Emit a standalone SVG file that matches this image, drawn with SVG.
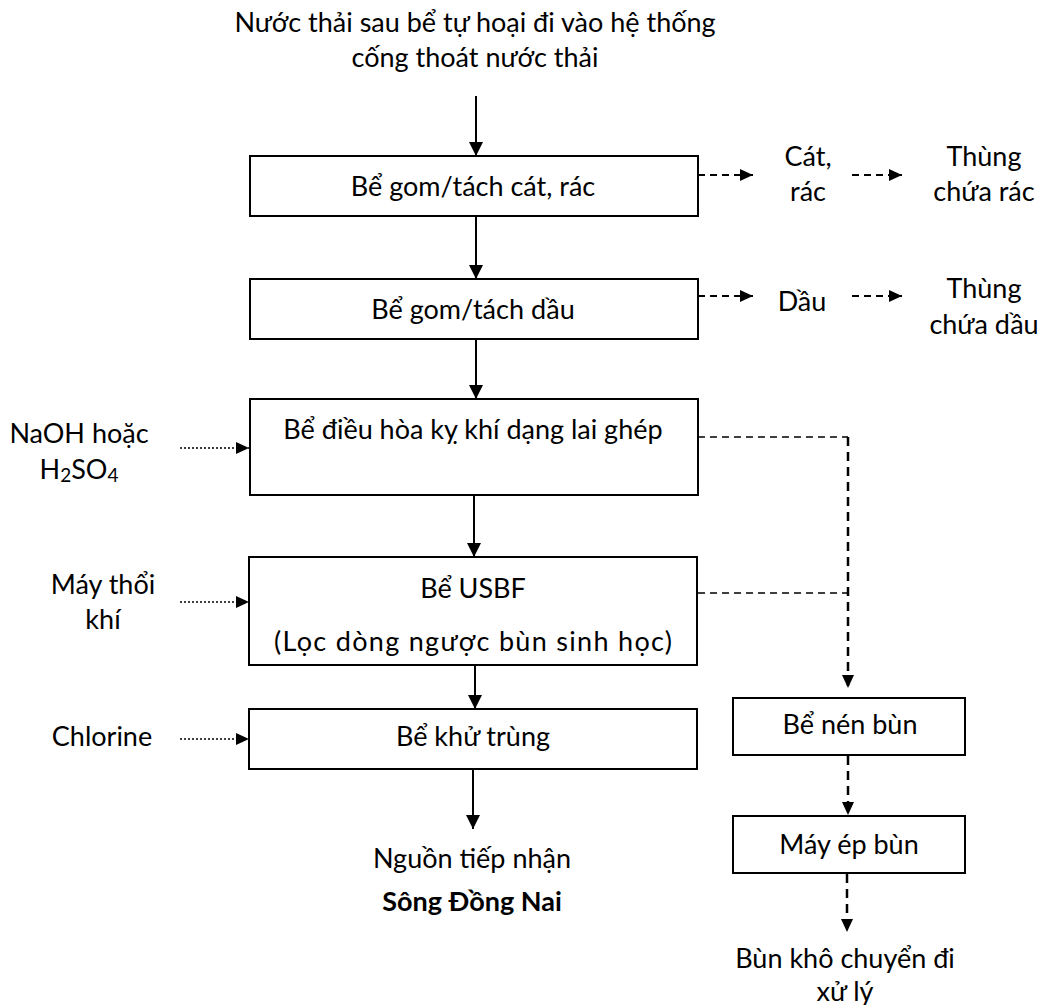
<svg xmlns="http://www.w3.org/2000/svg" width="1043" height="1005" viewBox="0 0 1043 1005">
<defs>
<style>
text{font-family:Lato,"Noto Sans",sans-serif;font-size:27px;fill:#000;text-anchor:middle}
.b{font-weight:bold}
.box{fill:#fff;stroke:#000;stroke-width:2}
.solid{stroke:#000;stroke-width:2;fill:none}
.dash{stroke:#000;stroke-width:2;fill:none;stroke-dasharray:7 5}
.dashv{stroke:#000;stroke-width:2.5;fill:none;stroke-dasharray:9 6}
.dashh{stroke:#000;stroke-width:1.5;fill:none;stroke-dasharray:7 5}
.dot{stroke:#000;stroke-width:1.5;fill:none;stroke-dasharray:2 2}
</style>
<marker id="ah" markerUnits="userSpaceOnUse" markerWidth="14" markerHeight="14" viewBox="0 0 14 14" refX="14" refY="7" orient="auto"><path d="M0,0 L14,7 L0,14 Z" fill="#000"/></marker>
<marker id="ahs" markerUnits="userSpaceOnUse" markerWidth="13" markerHeight="12" viewBox="0 0 13 12" refX="13" refY="6" orient="auto"><path d="M0,0 L13,6 L0,12 Z" fill="#000"/></marker>
</defs>

<g id="connectors">
<line class="solid" x1="476" y1="96" x2="476" y2="156" marker-end="url(#ah)"/>
<line class="solid" x1="476" y1="216" x2="476" y2="279" marker-end="url(#ah)"/>
<line class="solid" x1="476" y1="339" x2="476" y2="399" marker-end="url(#ah)"/>
<line class="solid" x1="474" y1="495" x2="474" y2="557" marker-end="url(#ah)"/>
<line class="solid" x1="475" y1="653" x2="475" y2="709" marker-end="url(#ah)"/>
<line class="solid" x1="473" y1="769" x2="473" y2="829" marker-end="url(#ah)"/>
<line class="dash" x1="698" y1="175" x2="753" y2="175" marker-end="url(#ahs)"/>
<line class="dash" x1="852" y1="175" x2="902" y2="175" marker-end="url(#ahs)"/>
<line class="dash" x1="698" y1="296" x2="753" y2="296" marker-end="url(#ahs)"/>
<line class="dash" x1="852" y1="296" x2="902" y2="296" marker-end="url(#ahs)"/>
<line class="dot" x1="180" y1="448" x2="249" y2="448" marker-end="url(#ahs)"/>
<line class="dot" x1="180" y1="602" x2="249" y2="602" marker-end="url(#ahs)"/>
<line class="dot" x1="180" y1="739" x2="249" y2="739" marker-end="url(#ahs)"/>
<line class="dashh" x1="698" y1="437" x2="848" y2="437"/>
<line class="dashh" x1="698" y1="593" x2="848" y2="593"/>
<line class="dashv" x1="848" y1="437" x2="848" y2="688" marker-end="url(#ahs)"/>
<line class="dashv" x1="848" y1="756" x2="848" y2="815" marker-end="url(#ahs)"/>
<line class="dashv" x1="847" y1="874" x2="847" y2="932" marker-end="url(#ahs)"/>
</g>

<g id="source"><text x="475" y="32">Nước thải sau bể tự hoại đi vào hệ thống</text><text x="475" y="67">cống thoát nước thải</text></g>

<g id="n1"><rect class="box" x="250" y="156" width="448" height="60"/><text x="473" y="196">Bể gom/tách cát, rác</text></g>
<g id="n2"><rect class="box" x="250" y="279" width="448" height="60"/><text x="473" y="319">Bể gom/tách dầu</text></g>
<g id="n3"><rect class="box" x="250" y="399" width="448" height="96"/><text x="473" y="439">Bể điều hòa kỵ khí dạng lai ghép</text></g>
<g id="n4"><rect class="box" x="249" y="557" width="448" height="108"/><text x="473" y="598">Bể USBF</text><text x="473" y="651" textLength="398" lengthAdjust="spacing">(Lọc dòng ngược bùn sinh học)</text></g>
<g id="n5"><rect class="box" x="249" y="709" width="448" height="60"/><text x="473" y="746">Bể khử trùng</text></g>
<g id="out"><text x="472" y="868">Nguồn tiếp nhận</text><text class="b" x="472" y="911">Sông Đồng Nai</text></g>

<g id="catrac"><text x="808" y="166">Cát,</text><text x="808" y="201">rác</text></g>
<g id="thungrac"><text x="984" y="166">Thùng</text><text x="984" y="201">chứa rác</text></g>
<g id="dau"><text x="802" y="311">Dầu</text></g>
<g id="thungdau"><text x="984" y="298">Thùng</text><text x="984" y="334">chứa dầu</text></g>

<g id="naoh"><text x="79" y="443">NaOH hoặc</text><text x="79" y="479">H<tspan font-size="19" dy="3">2</tspan><tspan dy="-3">SO</tspan><tspan font-size="19" dy="3">4</tspan></text></g>
<g id="may"><text x="103" y="594">Máy thổi</text><text x="103" y="629">khí</text></g>
<g id="chlorine"><text x="102" y="746">Chlorine</text></g>

<g id="nen"><rect class="box" x="733" y="698" width="232" height="57"/><text x="850" y="734">Bể nén bùn</text></g>
<g id="ep"><rect class="box" x="733" y="816" width="232" height="57"/><text x="849" y="854">Máy ép bùn</text></g>
<g id="bunkho"><text x="845" y="968">Bùn khô chuyển đi</text><text x="845" y="1001">xử lý</text></g>
</svg>
